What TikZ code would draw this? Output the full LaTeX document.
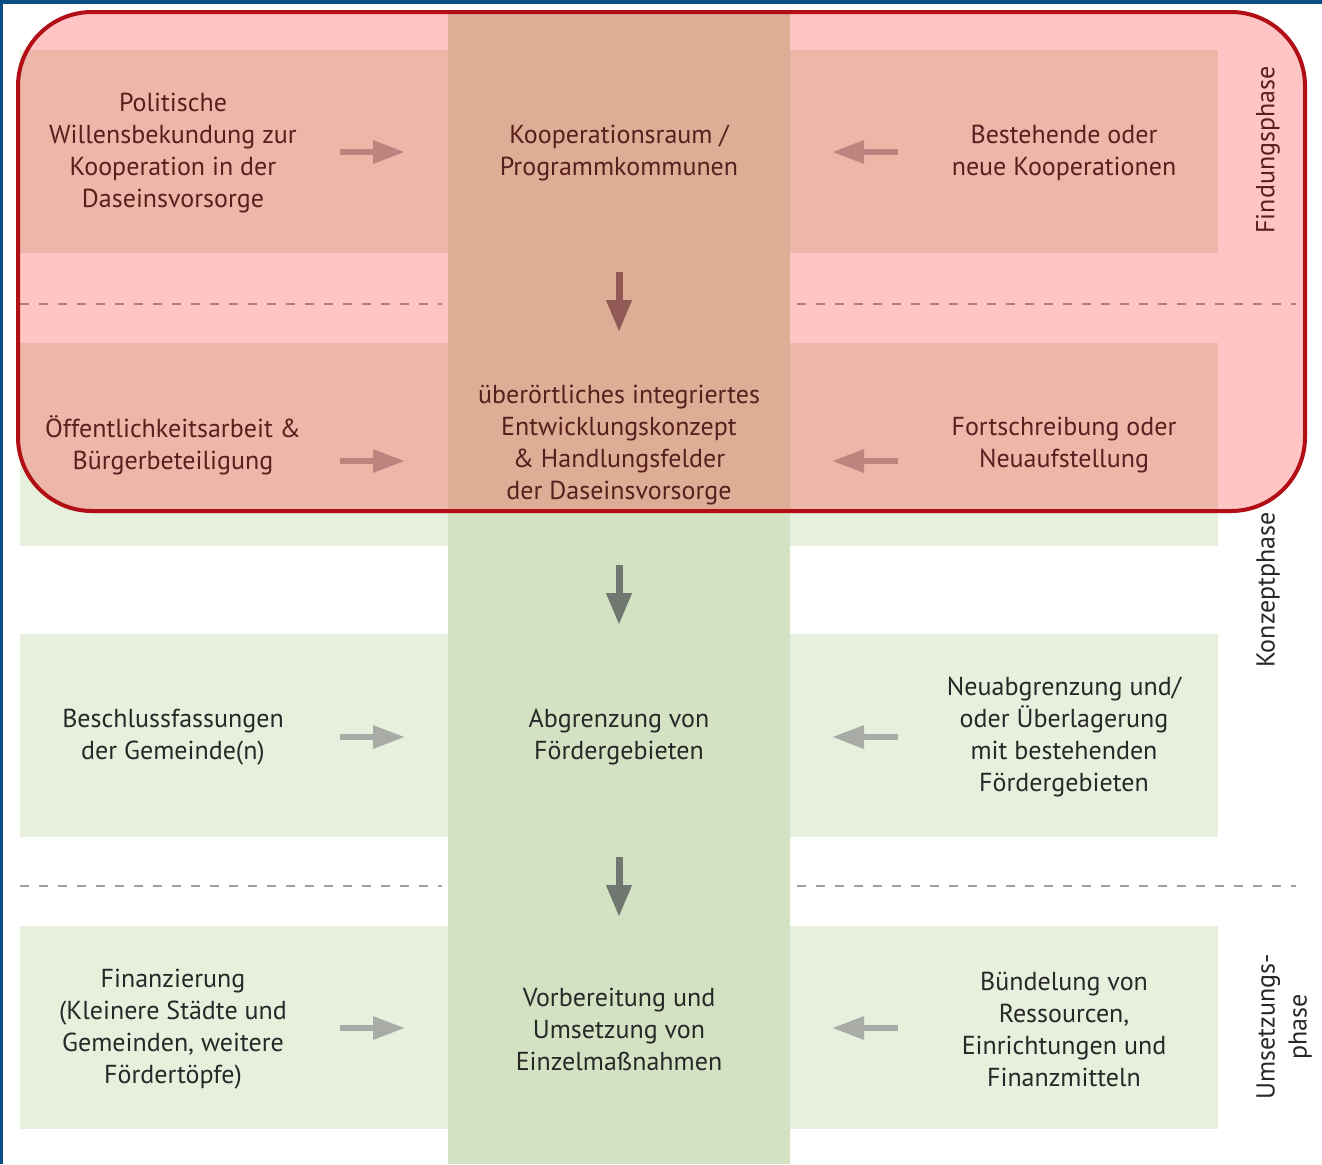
\documentclass[tikz,border=0pt]{standalone}
\usepackage{fontspec}
\setmainfont{PT Sans}
\usetikzlibrary{arrows.meta}

\definecolor{boxgreen}{RGB}{231,239,221}
\definecolor{colgreen}{RGB}{212,226,196}
\definecolor{txtgray}{RGB}{40,40,40}
\definecolor{arrowgray}{RGB}{168,171,166}
\definecolor{downgray}{RGB}{112,118,112}
\definecolor{dashgray}{RGB}{158,158,158}
\definecolor{borderred}{RGB}{178,14,22}
\definecolor{frameblue}{RGB}{10,78,133}

\tikzset{
  steptext/.style={align=center, text=txtgray, inner sep=0pt,
    font=\fontsize{13}{16}\selectfont},
  phasetext/.style={steptext, rotate=90},
  sidearrow/.style={arrowgray, line width=3pt, -{Triangle[length=16pt, width=11pt]}},
  downarrow/.style={downgray, line width=3.5pt, -{Triangle[length=16pt, width=12pt]}},
  phaseline/.style={dashgray, line width=1pt, dash pattern=on 4.5pt off 5pt},
}

\begin{document}
\begin{tikzpicture}[x=0.5pt, y=-0.5pt]
  \useasboundingbox (0,0) rectangle (1322,1164);
  \fill[white] (0,0) rectangle (1322,1164);

  % Boxes and centre column
  \fill[colgreen] (448,12) rectangle (790,1164);
  \foreach \t in {50,343,634,926} {
    \fill[boxgreen] (20,\t) rectangle (448,\t+203);
    \fill[boxgreen] (790,\t) rectangle (1218,\t+203);
  }

  % Phase borders
  \draw[phaseline] (20,304) -- (442,304);
  \draw[phaseline] (797,304) -- (1296,304);
  \draw[phaseline] (20,886) -- (442,886);
  \draw[phaseline] (797,886) -- (1296,886);

  % Texts
  \node[steptext] (l1) at (173,153) {Politische\\Willensbekundung zur\\Kooperation in der\\Daseinsvorsorge};
  \node[steptext] (c1) at (619,153) {Kooperationsraum /\\Programmkommunen};
  \node[steptext] (r1) at (1064,153) {Bestehende oder\\neue Kooperationen};

  \node[steptext] (l2) at (173,445) {Öffentlichkeitsarbeit \&\\Bürgerbeteiligung};
  \node[steptext] (c2) at (619,445) {überörtliches integriertes\\Entwicklungskonzept\\\& Handlungsfelder\\der Daseinsvorsorge};
  \node[steptext] (r2) at (1064,445) {Fortschreibung oder\\Neuaufstellung};

  \node[steptext] (l3) at (173,737) {Beschlussfassungen\\der Gemeinde(n)};
  \node[steptext] (c3) at (619,737) {Abgrenzung von\\Fördergebieten};
  \node[steptext] (r3) at (1064,737) {Neuabgrenzung und/\\oder Überlagerung\\mit bestehenden\\Fördergebieten};

  \node[steptext] (l4) at (173,1029) {Finanzierung\\(Kleinere Städte und\\Gemeinden, weitere\\Fördertöpfe)};
  \node[steptext] (c4) at (619,1029) {Vorbereitung und\\Umsetzung von\\Einzelmaßnahmen};
  \node[steptext] (r4) at (1064,1029) {Bündelung von\\Ressourcen,\\Einrichtungen und\\Finanzmitteln};

  \node[phasetext] (p1) at (1268,150) {Findungsphase};
  \node[phasetext] (p2) at (1268,590) {Konzeptphase};
  \node[phasetext] (p3) at (1284,1027) {Umsetzungs-\\phase};

  % Arrows
  \foreach \y [count=\i] in {152,461,737,1028} {
    \coordinate (la\i) at (340,\y);
    \coordinate (lb\i) at (405,\y);
    \coordinate (ra\i) at (898,\y);
    \coordinate (rb\i) at (832,\y);
    \draw[sidearrow] (la\i) -- (lb\i);
    \draw[sidearrow] (ra\i) -- (rb\i);
  }
  \foreach \y [count=\i] in {272,565,857} {
    \coordinate (da\i) at (619,\y);
    \coordinate (db\i) at (619,\y+60);
    \draw[downarrow] (da\i) -- (db\i);
  }

  % Findungsphase overlay
  \draw[borderred, line width=2pt, fill=red, fill opacity=0.23, rounded corners=37pt]
    (18,12) rectangle (1305,511);

  % Frame
  \fill[frameblue] (0,0) rectangle (1322,4);
  \fill[frameblue] (0,0) rectangle (3,1164);
\end{tikzpicture}
\end{document}
